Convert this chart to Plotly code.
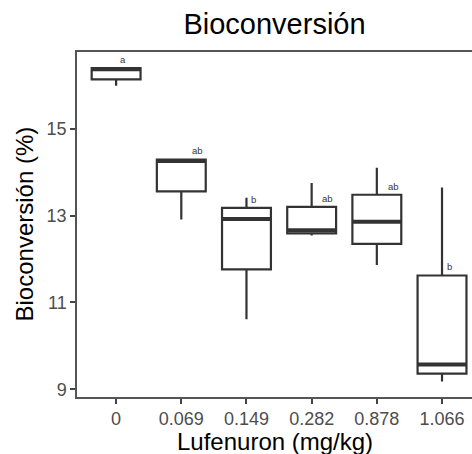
import plotly.graph_objects as go

categories = ["0", "0.069", "0.149", "0.282", "0.878", "1.066"]
lower_whisker = [15.99, 12.91, 10.61, 12.54, 11.86, 9.18]
q1_values = [16.14, 13.56, 11.76, 12.59, 12.35, 9.36]
median_values = [16.37, 14.26, 12.92, 12.66, 12.86, 9.57]
q3_values = [16.40, 14.29, 13.18, 13.20, 13.48, 11.62]
upper_whisker = [16.42, 14.29, 13.41, 13.75, 14.10, 13.65]
group_letters = ["a", "ab", "b", "ab", "ab", "b"]
y_ticks = [9, 11, 13, 15]

FONT = "Liberation Sans, Arial, sans-serif"
BOX_COLOR = "#333333"
BOX_W = 0.75

fig = go.Figure()
xs = list(range(len(categories)))
for i in xs:
    fig.add_trace(go.Box(
        x=[i], q1=[q1_values[i]], median=[median_values[i]], q3=[q3_values[i]],
        lowerfence=[lower_whisker[i]], upperfence=[upper_whisker[i]],
        width=BOX_W, whiskerwidth=0, fillcolor="white",
        line=dict(color=BOX_COLOR, width=2.2), boxpoints=False,
        showlegend=False, hoverinfo="skip",
    ))
    fig.add_trace(go.Scatter(
        x=[i - BOX_W / 2, i + BOX_W / 2], y=[median_values[i], median_values[i]],
        mode="lines", line=dict(color=BOX_COLOR, width=4),
        showlegend=False, hoverinfo="skip",
    ))

for i in xs:
    off = 0.25 if len(group_letters[i]) > 1 else 0.11
    fig.add_annotation(
        x=i + off, y=q3_values[i] + 0.2, text=group_letters[i], showarrow=False,
        font=dict(family=FONT, size=9.5, color=BOX_COLOR), xanchor="center", yanchor="middle",
    )

fig.add_annotation(
    x=0.5, y=-57 / 345, xref="paper", yref="paper", text="Lufenuron (mg/kg)",
    showarrow=False, font=dict(family=FONT, size=24, color="black"),
    xanchor="center", yanchor="middle", yshift=13,
)
fig.add_annotation(
    x=0, y=0.5, xref="paper", yref="paper", text="Bioconversión (%)", textangle=-90,
    showarrow=False, font=dict(family=FONT, size=24, color="black"),
    xanchor="center", yanchor="middle", xshift=-53,
)

fig.update_layout(
    width=472, height=454,
    margin=dict(l=77, r=0, t=52, b=57),
    plot_bgcolor="white", paper_bgcolor="white",
    title=dict(text="Bioconversión", x=0.5, xref="paper", y=1 - 24 / 454, yref="container",
               xanchor="center", yanchor="middle",
               font=dict(family=FONT, size=29, color="black")),
    xaxis=dict(
        range=[-0.6, 5.46], tickmode="array", tickvals=xs, ticktext=categories,
        automargin=False,
        showgrid=False, zeroline=False, showline=True, mirror=True,
        linecolor="#555555", linewidth=1.5,
        ticks="outside", ticklen=5, tickwidth=1.5, tickcolor="#444444",
        tickfont=dict(family=FONT, size=18, color="#4d4d4d"),
    ),
    yaxis=dict(
        range=[8.82, 16.77], tickmode="array", tickvals=y_ticks,
        automargin=False,
        showgrid=False, zeroline=False, showline=True, mirror=False,
        linecolor="#555555", linewidth=1.5,
        ticks="outside", ticklen=5, tickwidth=1.5, tickcolor="#444444",
        tickfont=dict(family=FONT, size=18, color="#4d4d4d"),
    ),
)

fig.write_html(
    "out.html",
    config={"displayModeBar": False},
    post_script="document.body.style.margin='0';document.body.style.overflow='hidden';",
)
